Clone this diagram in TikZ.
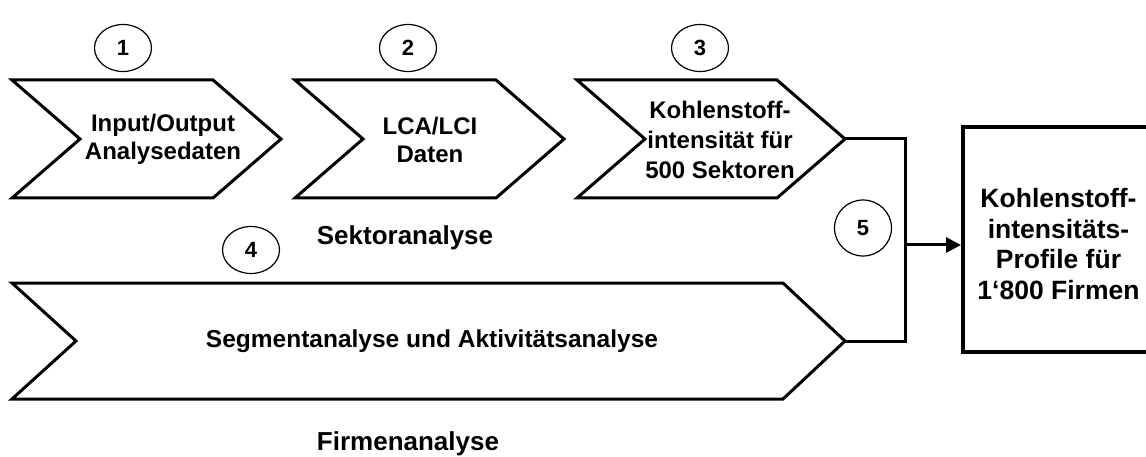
\documentclass[tikz,border=0pt]{standalone}
\usepackage{fontspec}
\setmainfont{Liberation Sans}
\usetikzlibrary{arrows.meta,shapes.geometric}

\begin{document}
\begin{tikzpicture}[x=1pt, y=-1pt, font=\bfseries]
  \useasboundingbox (0,0) rectangle (1146,457);
  \clip (0,0) rectangle (1146,457);
  % chevrons
  \begin{scope}[line width=3pt, line join=miter]
    \foreach \x/\w in {12/201, 295/201, 577/200}
      \draw (\x,80) -- ++(\w,0) -- ++(68,59) -- ++(-68,59) -- ++(-\w,0) -- ++(68,-59) -- cycle;
    \draw (12,283) -- ++(771,0) -- ++(62,58) -- ++(-62,58) -- ++(-771,0) -- ++(64,-58) -- cycle;
  \end{scope}
  \coordinate (tip3) at (845,139);
  \coordinate (tip4) at (845,341);
  \coordinate (join) at (905,245);
  % texts
  \begin{scope}[every node/.style={align=center, inner sep=0pt, font=\bfseries\fontsize{24}{28}\selectfont}]
    \node (in)  at (163,139) {Input/Output\\Analysedaten};
    \node (lca) at (430,140) {LCA/LCI\\Daten};
    \node[font=\bfseries\fontsize{24}{30}\selectfont] (ki) at (720,140) {Kohlenstoff-\\intensität für\\500 Sektoren};
    \node[font=\bfseries\fontsize{24.5}{29}\selectfont] (seg) at (432,341) {Segmentanalyse und Aktivitätsanalyse};
    \node[anchor=base, font=\bfseries\fontsize{26}{30}\selectfont] (sek)  at (405,244) {Sektoranalyse};
    \node[anchor=base, font=\bfseries\fontsize{26}{30}\selectfont] (firm) at (408,450) {Firmenanalyse};
    \node[font=\bfseries\fontsize{26.5}{30.5}\selectfont] (profiltext) at (1058.5,244) {Kohlenstoff-\\intensitäts-\\Profile für\\1‘800 Firmen};
  \end{scope}
  \node[draw, line width=4pt, minimum width=191pt, minimum height=225pt] (profil) at (1058.5,239.5) {};
  % numbers
  \begin{scope}[every node/.style={ellipse, draw, line width=1.2pt, minimum width=57pt, minimum height=47pt, inner sep=0pt, font=\bfseries\fontsize{22}{26}\selectfont}]
    \node (n1) at (123,48) {1};
    \node (n2) at (408,48) {2};
    \node (n3) at (700,48) {3};
    \node (n4) at (251,250) {4};
    \node[minimum height=56pt] (n5) at (863,228) {5};
  \end{scope}
  % connector
  \draw[line width=3pt] (tip3) -| (join) |- (tip4);
  \draw[line width=3pt, -{Triangle[length=15pt, width=15pt]}] (join) -- (join -| profil.west);
\end{tikzpicture}
\end{document}
